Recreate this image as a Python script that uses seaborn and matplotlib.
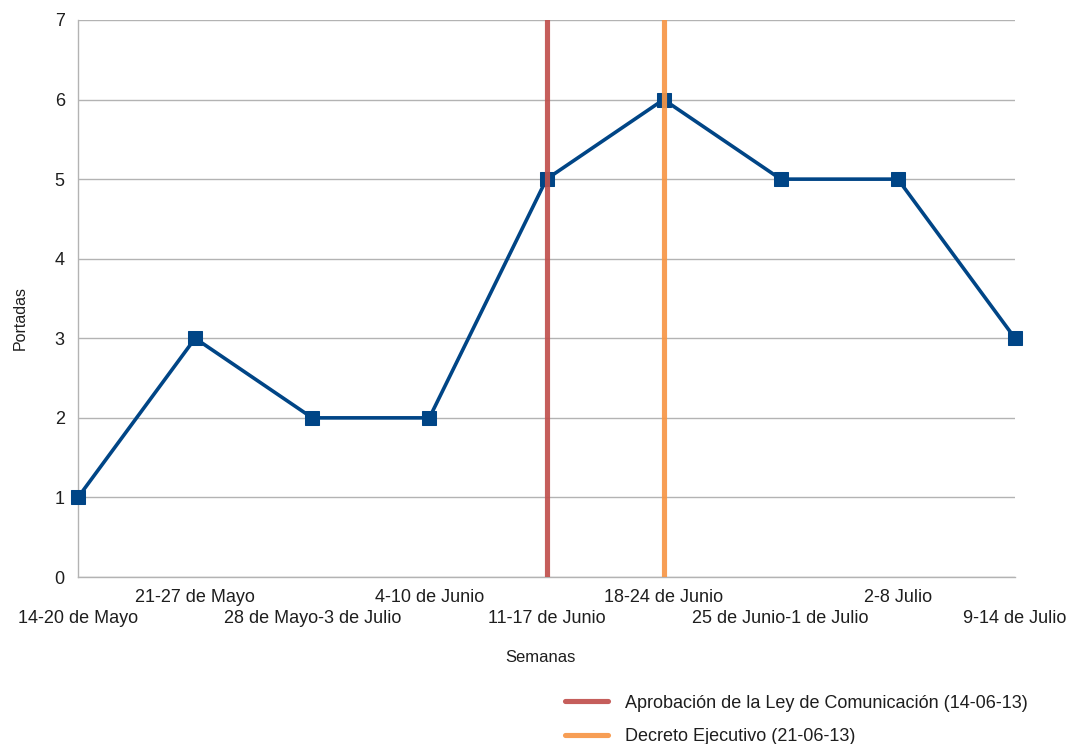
import matplotlib
matplotlib.use("Agg")
import matplotlib.pyplot as plt
import seaborn as sns
import pandas as pd

# Weekly front-page counts
semanas = [
    "14-20 de Mayo",
    "21-27 de Mayo",
    "28 de Mayo-3 de Julio",
    "4-10 de Junio",
    "11-17 de Junio",
    "18-24 de Junio",
    "25 de Junio-1 de Julio",
    "2-8 Julio",
    "9-14 de Julio",
]
portadas = [1, 3, 2, 2, 5, 6, 5, 5, 3]

# Events marked as vertical lines (week index where they fall)
eventos = ["Aprobación de la Ley de Comunicación (14-06-13)", "Decreto Ejecutivo (21-06-13)"]
eventos_pos = [4, 5]
eventos_color = ["#c0504d", "#f79646"]

sns.set_theme(style="white")
plt.rcParams["font.family"] = ["Liberation Sans", "DejaVu Sans"]
text_color = "#1e1e1e"

df = pd.DataFrame({"idx": range(len(semanas)), "Portadas": portadas})

fig = plt.figure(figsize=(10.71, 7.44), dpi=100)
ax = fig.add_axes([78 / 1071, 1 - 577 / 744, (1015 - 78) / 1071, (577 - 20) / 744])

sns.lineplot(data=df, x="idx", y="Portadas", ax=ax, color="#004586", linewidth=2.6,
             marker="s", markersize=9.5, markeredgecolor="#004586", clip_on=False,
             zorder=3)

handles = []
for name, pos, col in zip(eventos, eventos_pos, eventos_color):
    h = ax.axvline(pos, color=col, linewidth=3.7, alpha=0.92, zorder=4, label=name)
    handles.append(h)

ax.set_xlim(0, len(semanas) - 1)
ax.set_ylim(0, 7)
ax.set_yticks(range(0, 8))
ax.set_xticks(range(len(semanas)))
ax.set_xticklabels(semanas)

ax.yaxis.grid(True, color="#b3b3b3", linewidth=1)
ax.xaxis.grid(False)
for s in ["top", "right"]:
    ax.spines[s].set_visible(False)
for s in ["left", "bottom"]:
    ax.spines[s].set_color("#b3b3b3")
    ax.spines[s].set_linewidth(1)

ax.tick_params(axis="both", which="major", length=5.5, width=1, color="#b3b3b3",
               labelsize=13, labelcolor=text_color)
ax.tick_params(axis="y", pad=4)
for i, tick in enumerate(ax.xaxis.get_major_ticks()):
    tick.set_pad(3.5 if i % 2 == 1 else 18)

ax.set_ylabel("Portadas", fontsize=11.5, color=text_color)
ax.set_xlabel("Semanas", fontsize=12, color=text_color)
ax.yaxis.set_label_coords(-0.062, 0.465)
ax.xaxis.set_label_coords(0.494, -0.145)
ax.yaxis.label.set_va("center")
ax.xaxis.label.set_va("center")

fig.legend(handles=handles, labels=eventos, loc="center left",
           bbox_to_anchor=(565 / 1071, 1 - 720 / 744), frameon=False,
           fontsize=13, handlelength=2.4, handletextpad=0.95, labelspacing=0.93,
           borderpad=0, borderaxespad=0, labelcolor=text_color)

fig.savefig("out.png", dpi=100)
